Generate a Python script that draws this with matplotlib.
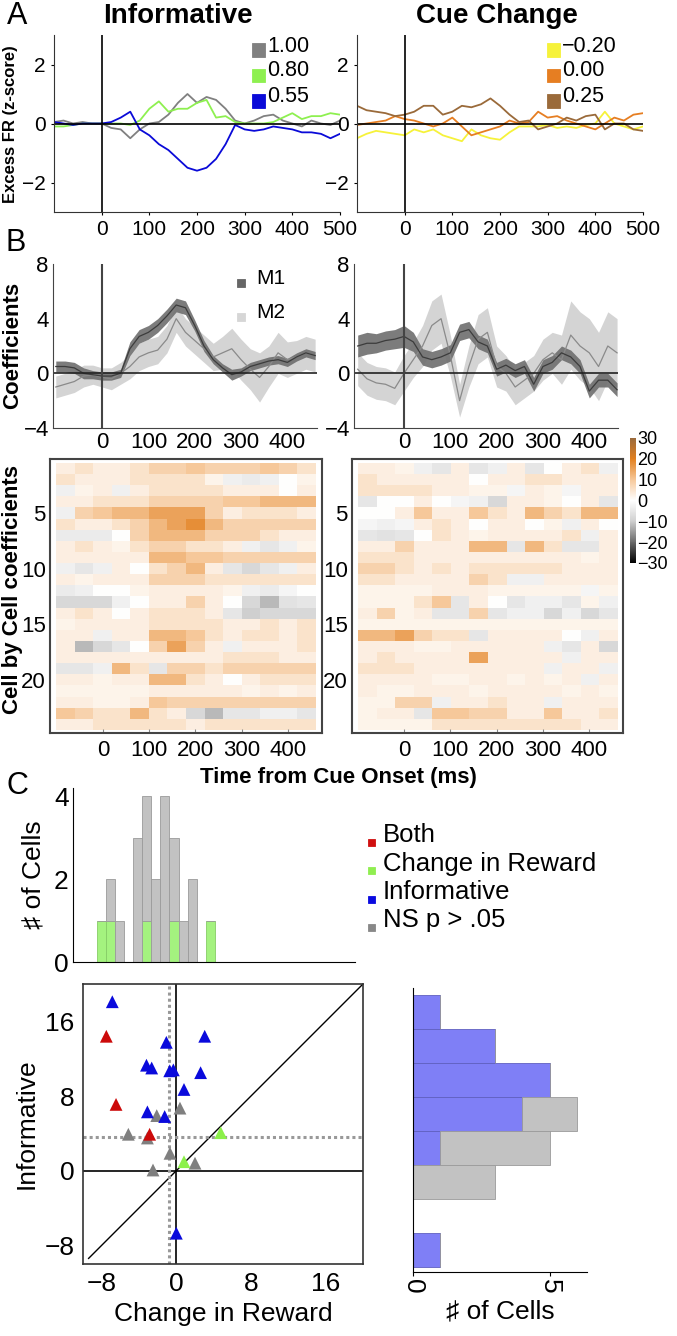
import numpy as np
import matplotlib
matplotlib.use("Agg")
import matplotlib.pyplot as plt
from matplotlib.colors import LinearSegmentedColormap
from matplotlib.patches import Rectangle

plt.rcParams['font.family'] = ['Liberation Sans', 'DejaVu Sans']
plt.rcParams['axes.unicode_minus'] = True

# ---------------- DATA ----------------
# Panel A (time in ms, excess FR z-score)
tA = [-100, -80, -60, -40, -20, 0, 20, 40, 60, 80, 100, 120, 140, 160, 180, 200,
      220, 240, 260, 280, 300, 320, 340, 360, 380, 400, 420, 440, 460, 480, 500]
inf_100 = [0.05, 0.1, 0.0, 0.05, 0.0, 0.0, -0.15, -0.2, -0.5, -0.2, 0.0, 0.05, 0.3, 0.7, 1.0, 0.7,
           0.9, 0.8, 0.5, 0.1, 0.0, 0.1, 0.25, 0.3, 0.1, 0.0, -0.1, 0.1, 0.0, -0.05, 0.1]
inf_080 = [-0.1, -0.1, -0.05, 0.0, 0.0, 0.0, 0.0, 0.0, -0.05, 0.1, 0.5, 0.75, 0.4, 0.5, 0.5, 0.7,
           0.8, 0.2, 0.25, 0.05, 0.0, 0.0, 0.0, 0.05, 0.2, 0.35, 0.15, 0.25, 0.25, 0.35, 0.3]
inf_055 = [0.05, 0.0, -0.05, 0.0, 0.0, 0.0, 0.05, 0.2, 0.4, -0.2, -0.4, -0.7, -0.9, -1.2, -1.5, -1.6,
           -1.5, -1.2, -0.7, -0.05, -0.2, -0.25, -0.2, -0.1, -0.15, -0.2, -0.3, -0.3, -0.35, -0.5, -0.35]
cue_m020 = [-0.5, -0.35, -0.25, -0.3, -0.35, -0.4, -0.2, -0.3, -0.2, -0.4, -0.5, -0.6, -0.2, -0.4, -0.5, -0.55,
            -0.3, -0.1, -0.1, -0.1, -0.05, -0.15, -0.1, -0.15, -0.05, 0.0, 0.4, 0.0, -0.1, -0.2, -0.1]
cue_000 = [-0.05, 0.0, 0.05, 0.1, 0.25, 0.15, 0.1, 0.0, -0.1, 0.0, 0.2, -0.1, -0.4, -0.3, -0.2, -0.1,
           0.1, 0.0, 0.05, 0.4, 0.2, 0.25, 0.1, 0.0, -0.1, -0.2, 0.0, 0.2, 0.1, 0.3, 0.35]
cue_025 = [0.6, 0.45, 0.4, 0.35, 0.25, 0.3, 0.4, 0.6, 0.6, 0.3, 0.4, 0.6, 0.55, 0.65, 0.85, 0.6,
           0.3, 0.05, 0.1, -0.2, -0.1, 0.0, 0.2, 0.1, 0.25, 0.3, -0.2, 0.0, 0.0, -0.2, -0.25]
inf_labels = ["1.00", "0.80", "0.55"]
cue_labels = ["\u22120.20", "0.00", "0.25"]

# Panel B (coefficients)
tB = [-100, -80, -60, -40, -20, 0, 20, 40, 60, 80, 100, 120, 140, 160, 180, 200,
      220, 240, 260, 280, 300, 320, 340, 360, 380, 400, 420, 440, 460]
infM1 = [0.5, 0.5, 0.4, 0.0, -0.1, -0.2, -0.2, 0.0, 1.8, 2.7, 3.0, 3.5, 4.2, 5.0, 4.8, 3.5,
         2.0, 1.0, 0.4, -0.1, 0.1, 0.5, 0.7, 0.9, 1.0, 0.8, 1.2, 1.5, 1.3]
infM1_hw = [0.4, 0.4, 0.4, 0.4, 0.3, 0.3, 0.3, 0.3, 0.5, 0.5, 0.5, 0.5, 0.5, 0.5, 0.5, 0.4,
            0.4, 0.3, 0.3, 0.4, 0.3, 0.3, 0.3, 0.3, 0.3, 0.3, 0.3, 0.3, 0.3]
infM2 = [-1.0, -0.8, -0.6, -0.2, -0.1, -0.3, -0.4, 0.0, 0.5, 1.2, 1.5, 1.7, 2.5, 4.0, 3.0, 2.4,
         1.8, 1.2, 1.5, 1.8, 1.0, 0.3, -0.3, 0.5, 1.5, 1.0, 1.2, 1.5, 1.3]
infM2_hw = [0.8, 0.8, 0.8, 0.8, 0.7, 0.7, 0.8, 0.8, 0.9, 1.0, 1.0, 1.0, 1.0, 1.0, 1.0, 1.0,
            1.0, 1.0, 1.2, 1.5, 1.5, 1.5, 1.8, 1.5, 1.5, 1.3, 1.2, 1.2, 1.2]
cueM1 = [2.0, 2.2, 2.2, 2.4, 2.5, 2.7, 2.3, 1.2, 1.0, 1.2, 1.5, 3.0, 3.2, 2.3, 2.0, 0.3,
         0.6, 0.2, 0.5, -0.8, 0.5, 0.8, 1.5, 1.2, 0.5, -1.3, -0.5, -0.5, -1.2]
cueM1_hw = [0.8, 0.8, 0.7, 0.7, 0.7, 0.8, 0.7, 0.6, 0.6, 0.6, 0.6, 0.6, 0.6, 0.5, 0.5, 0.5,
            0.5, 0.5, 0.5, 0.5, 0.5, 0.5, 0.5, 0.5, 0.5, 0.5, 0.5, 0.5, 0.5]
cueM2 = [0.3, -0.4, -0.7, -0.8, -1.1, 0.0, 1.0, 2.0, 3.5, 4.0, 1.3, -2.0, 0.5, 2.5, 3.0, 0.5,
         0.0, -1.0, -0.5, 0.0, 1.0, 1.5, 1.0, 2.8, 2.0, 1.5, 0.5, 2.0, 1.5]
cueM2_hw = [1.2, 1.2, 1.2, 1.2, 1.2, 1.3, 1.3, 1.5, 1.8, 1.8, 1.5, 1.2, 1.5, 1.8, 1.8, 1.5,
            1.3, 1.3, 1.3, 1.3, 1.5, 1.5, 1.8, 2.5, 2.5, 2.5, 2.5, 2.5, 2.5]

# Heatmaps: 24 cells x 14 time bins (40 ms bins from -100 to 460 ms)
heat_t_edges = [-100, 460]
heat_inf = [
    [3, 5, 3, 3, 5, 8, 8, 10, 8, 8, 8, 10, 8, 5],
    [5, 3, 3, 3, 5, 5, 5, 5, 2, -3, -4, -3, 0, 2],
    [-3, 2, 3, -3, 3, 5, 5, 5, 5, 3, 3, 3, 0, 3],
    [3, 3, 5, 5, 5, 8, 8, 8, 8, 10, 10, 12, 12, 12],
    [-3, 8, 10, 12, 12, 15, 15, 15, 8, 3, 5, 5, 5, 3],
    [5, 3, 3, 5, 8, 12, 15, 18, 12, 8, 8, 8, 8, 8],
    [-4, -4, -4, 0, 8, 12, 12, 12, 8, 8, 8, 5, 3, 3],
    [3, 5, 3, 2, 5, 8, 8, 5, 5, 3, -3, -5, -3, 2],
    [3, 3, 3, 3, 3, 12, 12, 10, 10, 8, 8, 8, 8, 8],
    [-3, -5, -3, 3, 0, 5, 8, 12, 3, -5, -8, -5, -3, 3],
    [3, 2, 3, 3, 3, 8, 8, 8, 5, 5, 5, 5, 5, 5],
    [-4, -3, 0, 0, 2, 3, 3, 3, 3, 2, -3, -4, -2, 0],
    [-8, -8, -8, -3, 0, 3, 3, 8, 3, 0, -8, -12, -6, -5],
    [3, 5, 3, 0, 3, 5, 5, 5, 3, -5, -10, -8, -8, -8],
    [2, 3, 3, 3, 3, 5, 5, 5, 5, 3, 3, 5, 3, 5],
    [3, 3, -3, 3, 3, 12, 12, 10, 5, 3, 5, 5, 3, 5],
    [3, -12, -8, -5, 0, 8, 15, 8, 3, -3, 3, 3, 3, 5],
    [3, 3, 3, 3, 3, 3, 3, 3, 3, 5, 5, 5, 3, 3],
    [-5, -5, -3, 12, 5, -5, 8, 8, 5, 8, 8, 8, 8, 8],
    [3, 3, 2, 3, 3, 12, 12, 5, 3, 0, 3, 5, 5, 5],
    [2, 2, 2, 2, 2, 3, 3, 3, 3, 3, 2, 3, 2, 3],
    [3, 3, 2, 2, 3, 10, 8, 8, 8, 8, 8, 8, 8, 8],
    [10, 8, 5, 5, 12, 5, 3, -8, -12, -5, -5, -3, -3, -5],
    [3, 3, 5, 5, 5, 5, 5, 3, 5, 5, 5, 5, 5, 5],
]
heat_cue = [
    [3, 3, 2, -3, -5, 3, -5, -3, 3, -5, 0, 3, 5, -3],
    [5, 3, 3, 3, 3, 3, 0, 3, 3, 5, 5, 3, 3, 3],
    [5, 5, 5, 5, 3, 3, 2, 2, -2, 3, 2, -2, 3, 3],
    [-5, 0, 0, 3, 0, -2, -3, -8, 3, 3, 2, 0, 3, -5],
    [0, 0, 3, 10, 3, 3, 10, 5, 3, 12, 8, 5, 12, 12],
    [-2, -3, -2, 3, 5, 3, 0, 3, 3, 0, 2, -3, 3, 0],
    [-5, -6, -5, 0, 5, 3, 2, 3, 3, 3, 3, 5, -3, 3],
    [3, 3, 8, 3, 3, 3, 12, 12, -5, 12, 5, -5, -5, 3],
    [5, 5, 5, 3, 3, 3, 3, 3, 3, 3, 3, 3, 2, 3],
    [8, 8, 5, 3, 5, 3, 5, 5, 5, 5, 5, 3, 3, 3],
    [5, 5, 3, 3, 3, 3, 8, 5, -3, -3, 3, 3, 3, 3],
    [2, 2, 2, 2, 3, 3, 3, 2, 2, 2, 2, 2, -2, 2],
    [2, 2, 2, 5, 10, -5, 3, 0, -5, -3, -3, -5, 2, -3],
    [3, 8, 2, 3, -5, -5, 8, -5, -3, -3, -8, -3, -8, -5],
    [2, 2, 2, 2, 2, 2, 2, 2, 2, 2, 2, 2, 2, 2],
    [12, 12, 15, 8, 5, 5, -5, 3, 3, 3, 3, 0, -3, 3],
    [3, 3, 3, 2, 2, 3, 3, 3, 3, 3, -3, -5, 3, -8],
    [3, 5, 3, 3, 3, 3, 15, 3, 3, 3, 3, -3, 3, 3],
    [5, 5, 5, 3, 3, 3, 3, 3, 3, 3, -3, 3, 3, -3],
    [3, 3, 3, 3, 2, 2, 3, 3, 2, 3, 2, 3, -3, 3],
    [3, 2, 2, 3, 3, 3, 2, 3, 3, 3, 3, 2, 3, 2],
    [2, 2, 8, 8, -3, 3, 3, 5, 3, 3, -3, 3, 3, 3],
    [2, 3, 3, -5, 10, 10, 8, 8, 3, 3, 10, 3, 3, 5],
    [2, 2, 2, 2, 5, 5, 5, 5, 5, 5, 5, 5, 3, 3],
]
cbar_ticks = [-30, -20, -10, 0, 10, 20, 30]

# Panel C histogram (top)
hist_bins = [-8, -7, -6, -5, -4, -3, -2, -1, 0, 1, 2, 3, 4]
hist_green = [1, 1, 0, 0, 0, 1, 0, 0, 1, 0, 0, 0, 1]
hist_gray = [0, 1, 1, 0, 3, 3, 2, 4, 2, 1, 2, 0, 0]

# Panel C scatter
blue_x = [-6.86, -1.07, 3.04, -3.2, -2.64, -0.71, -0.32, 2.6, 0.82, -3.1, -1.25, 0.0]
blue_y = [18.1, 13.75, 14.4, 11.3, 11.0, 10.7, 10.8, 10.5, 8.7, 6.3, 5.8, -6.7]
red_x = [-7.5, -6.46, -2.86]
red_y = [14.4, 7.1, 3.9]
gray_x = [0.39, -2.1, -5.14, -3.1, -0.68, 2.0, -2.5]
gray_y = [6.7, 5.9, 3.9, 3.5, 1.86, 0.8, 0.07]
green_x = [4.75, 0.82]
green_y = [4.07, 0.96]
thr_x = -0.75
thr_y = 3.57

# Panel C right histogram (horizontal)
rh_bins = [0, 1, 2, 3, 4, 5, 6, 7]
rh_blue = [1, 0, 0, 1, 4, 5, 3, 1]
rh_gray = [0, 0, 3, 4, 2, 0, 0, 0]

legend_C = ["Both", "Change in Reward", "Informative", "NS p > .05"]

# ---------------- FIGURE ----------------
W, H = 677, 1336
fig = plt.figure(figsize=(W / 100, H / 100), dpi=100)


def add_ax(x0, y0, x1, y1):
    return fig.add_axes([x0 / W, 1 - y1 / H, (x1 - x0) / W, (y1 - y0) / H])


def ftext(x, y, s, **kw):
    fig.text(x / W, 1 - y / H, s, **kw)


def fsq(xc, yc, size, color, ec=None):
    fig.patches.append(Rectangle(((xc - size / 2) / W, 1 - (yc + size / 2) / H), size / W, size / H,
                                 transform=fig.transFigure, facecolor=color,
                                 edgecolor=ec if ec else color, lw=0.6))


# ---- Panel A ----
colA_inf = ['#808080', '#8ef050', '#0a0ad8']
colA_cue = ['#f6f23a', '#e67e22', '#9a6a3a']
axA1 = add_ax(54, 35, 340, 212)
axA2 = add_ax(357, 35, 643, 212)
for ax, ser, cols in [(axA1, [inf_100, inf_080, inf_055], colA_inf),
                      (axA2, [cue_m020, cue_000, cue_025], colA_cue)]:
    for s, c in zip(ser, cols):
        ax.plot(tA, s, color=c, lw=1.3)
    ax.axhline(0, color='k', lw=1.2)
    ax.axvline(0, color='k', lw=1.2)
    ax.set_xlim(-100, 500)
    ax.set_ylim(-3, 3)
    ax.set_xticks([0, 100, 200, 300, 400, 500])
    ax.set_yticks([-2, 0, 2])
    for sp in ['top', 'right']:
        ax.spines[sp].set_visible(False)
    for sp in ['left', 'bottom']:
        ax.spines[sp].set_color('#333333')
    ax.tick_params(labelsize=15, length=2, pad=4)
    ax.set_facecolor('none')

for i, (lab, c) in enumerate(zip(inf_labels, colA_inf)):
    fsq(258, 50 + i * 25.5, 13, c)
    ftext(267, 46 + i * 25, lab, fontsize=15.5, va='center', ha='left')
for i, (lab, c) in enumerate(zip(cue_labels, colA_cue)):
    fsq(553, 50 + i * 25.5, 13, c)
    ftext(562, 46 + i * 25, lab, fontsize=15.5, va='center', ha='left')

ftext(7, 16, "A", fontsize=22, va='center', ha='left')
ftext(178, 16, "Informative", fontsize=20, fontweight='bold', va='center', ha='center')
ftext(497, 16, "Cue Change", fontsize=20, fontweight='bold', va='center', ha='center')
ftext(11, 124, "Excess FR (z-score)", fontsize=12, fontweight='bold', rotation=90,
      va='center', ha='center')

# ---- Panel B ----
axB1 = add_ax(53, 264, 317, 428)
axB2 = add_ax(354, 264, 618, 428)
for ax, m1, h1, m2, h2, xl in [(axB1, infM1, infM1_hw, infM2, infM2_hw, (-106, 464)),
                               (axB2, cueM1, cueM1_hw, cueM2, cueM2_hw, (-108, 462))]:
    m1 = np.array(m1); h1 = np.array(h1); m2 = np.array(m2); h2 = np.array(h2)
    ax.fill_between(tB, m2 - h2, m2 + h2, color='#d4d4d4', lw=0)
    ax.fill_between(tB, m1 - h1, m1 + h1, color='#6e6e6e', lw=0, alpha=0.9)
    ax.plot(tB, m2, color='#8a8a8a', lw=0.9)
    ax.plot(tB, m1, color='#3c3c3c', lw=0.9)
    ax.axhline(0, color='#222222', lw=1.2)
    ax.axvline(0, color='#444444', lw=1.5)
    ax.set_xlim(*xl)
    ax.set_ylim(-4, 8)
    ax.set_xticks([0, 100, 200, 300, 400])
    ax.set_yticks([-4, 0, 4, 8])
    for sp in ['top', 'right']:
        ax.spines[sp].set_visible(False)
    for sp in ['left', 'bottom']:
        ax.spines[sp].set_color('#444444')
    ax.tick_params(labelsize=16, length=0, pad=3)
    ax.set_facecolor('none')

fsq(241, 283, 8, '#666666')
ftext(256, 279, "M1", fontsize=15, va='center', ha='left')
fsq(241, 317, 8, '#d6d6d6')
ftext(256, 313, "M2", fontsize=15, va='center', ha='left')
ftext(5, 243, "B", fontsize=22, va='center', ha='left')
ftext(13, 345, "Coefficients", fontsize=16, fontweight='bold', rotation=90,
      va='center', ha='center')

# ---- Heatmaps ----
cmap = LinearSegmentedColormap.from_list(
    'cb', [(0.0, '#000000'), (1 / 6, '#6a6a6a'), (2 / 6, '#cfcfcf'), (0.5, '#ffffff'),
           (4 / 6, '#f6c89a'), (5 / 6, '#e2801f'), (1.0, '#9a6b3d')])
axH1 = add_ax(50, 459, 322, 733)
axH2 = add_ax(352, 459, 623, 733)
ims = []
for ax, data, xl in [(axH1, heat_inf, (-114, 473)), (axH2, heat_cue, (-112, 473))]:
    arr = np.array(data, dtype=float)
    im = ax.imshow(arr, cmap=cmap, vmin=-30, vmax=30, aspect='auto', interpolation='nearest',
                   extent=[heat_t_edges[0], heat_t_edges[1], len(data) + 0.5, 0.5])
    ims.append(im)
    ax.set_xlim(*xl)
    ax.set_ylim(24.8, 0.13)
    ax.set_xticks([0, 100, 200, 300, 400])
    ax.set_yticks([5, 10, 15, 20])
    for sp in ax.spines.values():
        sp.set_color('#444444')
        sp.set_linewidth(1.5)
    ax.tick_params(axis='x', labelsize=16, length=3, direction='in', color='#888888', pad=5)
    ax.tick_params(axis='y', labelsize=16, length=0, pad=3)

cax = add_ax(630, 438, 636, 563)
cb = fig.colorbar(ims[0], cax=cax, ticks=cbar_ticks)
cb.outline.set_visible(False)
cax.tick_params(length=0, labelsize=13, pad=1)
cax.set_yticklabels([("\u2212" + str(-v)) if v < 0 else str(v) for v in cbar_ticks])

ftext(13, 590, "Cell by Cell coefficients", fontsize=16, fontweight='bold', rotation=90,
      va='center', ha='center')
ftext(338, 777, "Time from Cue Onset (ms)", fontsize=16, fontweight='bold',
      va='center', ha='center')

# ---- Panel C: top histogram ----
axC1 = add_ax(73, 788, 355, 962)
axC1.bar(hist_bins, hist_green, width=1, color='#a4f27f', edgecolor='#86cc66', lw=0.6)
axC1.bar(hist_bins, hist_gray, width=1, bottom=hist_green, color='#c2c2c2',
         edgecolor='#9a9a9a', lw=0.6)
axC1.set_xlim(-11.1, 19.9)
axC1.set_ylim(0, 4.2)
axC1.set_xticks([])
axC1.set_yticks([0, 2, 4])
for sp in ['top', 'right']:
    axC1.spines[sp].set_visible(False)
axC1.tick_params(labelsize=19, length=0, pad=3)
axC1.set_ylabel("\u266f of Cells", fontsize=19, labelpad=6)

leg_cols = ['#d01010', '#90ee50', '#0a0ae0', '#888888']
for i, (lab, c) in enumerate(zip(legend_C, leg_cols)):
    fsq(371.5, 842 + i * 28.5, 7, c)
    ftext(383, 835 + i * 28.5, lab, fontsize=18.5, va='center', ha='left')

ftext(6, 786, "C", fontsize=22, va='center', ha='left')

# ---- Panel C: scatter ----
axS = add_ax(83, 984, 363, 1264)
axS.axhline(0, color='k', lw=1.2, zorder=1)
axS.axvline(0, color='k', lw=1.2, zorder=1)
axS.plot([-9.4, 20], [-9.4, 20], color='k', lw=1.0, zorder=1)
axS.axvline(thr_x, color='#999999', lw=2.2, ls=(0, (1, 1)), zorder=1)
axS.axhline(thr_y, color='#999999', lw=2.2, ls=(0, (1, 1)), zorder=1)
for xs, ys, c in [(gray_x, gray_y, '#7f7f7f'), (red_x, red_y, '#cc0a0a'),
                  (blue_x, blue_y, '#0a0adc'), (green_x, green_y, '#8cf04a')]:
    axS.scatter(xs, ys, marker='^', s=85, c=c, edgecolors='none', zorder=3)
axS.set_xlim(-10, 20)
axS.set_ylim(-10, 20)
axS.set_xticks([-8, 0, 8, 16])
axS.set_yticks([-8, 0, 8, 16])
for sp in axS.spines.values():
    sp.set_color('#333333')
    sp.set_linewidth(1.2)
axS.tick_params(labelsize=19, length=0, pad=6)
axS.set_xlabel("Change in Reward", fontsize=19, labelpad=4)
axS.set_ylabel("Informative", fontsize=19, labelpad=4)

# ---- Panel C: right histogram ----
axR = add_ax(412.7, 988, 587, 1272)
axR.barh(rh_bins, rh_blue, height=1, align='edge', color='#7f7ff6', edgecolor='#6060c0', lw=0.6)
axR.barh(rh_bins, rh_gray, height=1, align='edge', left=rh_blue, color='#c2c2c2',
         edgecolor='#9a9a9a', lw=0.6)
axR.set_xlim(0, 6.35)
axR.set_ylim(-0.15, 8.2)
axR.set_yticks([])
axR.set_xticks([0, 5])
axR.set_xticklabels(['0', '5'], rotation=-90)
for sp in ['top', 'right']:
    axR.spines[sp].set_visible(False)
axR.tick_params(labelsize=19, length=3, pad=2)
axR.set_xlabel("\u266f of Cells", fontsize=19, labelpad=4)

fig.savefig("out.png", dpi=100)
